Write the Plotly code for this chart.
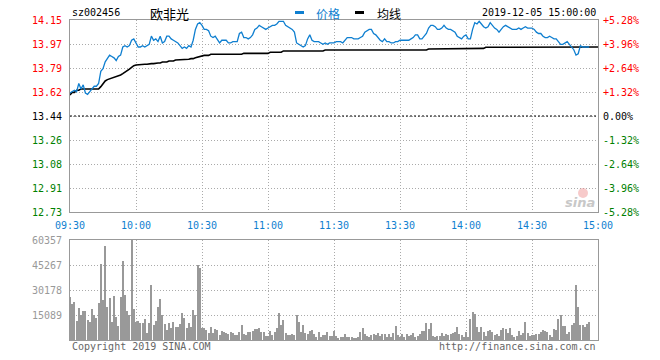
import plotly.graph_objects as go

# ---------------- data ----------------
stock_code = "sz002456"
stock_name = "欧非光"
timestamp = "2019-12-05 15:00:00"
prev_close = 13.44

time_ticks = [0, 30, 60, 90, 120, 150, 180, 210, 240]
time_labels = ["09:30", "10:00", "10:30", "11:00", "11:30", "13:30", "14:00", "14:30", "15:00"]

pct_steps = [-5.28, -3.96, -2.64, -1.32, 0.00, 1.32, 2.64, 3.96, 5.28]
price_labels = ["12.73", "12.91", "13.08", "13.26", "13.44", "13.62", "13.79", "13.97", "14.15"]
pct_labels = ["-5.28%", "-3.96%", "-2.64%", "-1.32%", "0.00%", "+1.32%", "+2.64%", "+3.96%", "+5.28%"]

vol_max = 60357
vol_ticks = [15089, 30178, 45267, 60357]
vol_labels = ["15089", "30178", "45267", "60357"]

price = [
    13.61, 13.62, 13.63, 13.62, 13.68, 13.64, 13.67, 13.61, 13.60, 13.62,
    13.64, 13.66, 13.66, 13.68, 13.77, 13.79, 13.84, 13.87, 13.89, 13.88,
    13.87, 13.85, 13.88, 13.89, 13.95, 13.96, 13.95, 13.96, 14.00, 14.01,
    13.98, 13.95, 13.95, 13.96, 13.95, 13.96, 13.97, 14.03, 14.00, 14.01,
    13.99, 14.03, 13.98, 13.99, 14.03, 14.03, 14.01, 14.00, 13.99, 13.98,
    13.96, 13.94, 13.95, 13.94, 13.96, 13.95, 14.00, 14.08, 14.12, 14.13,
    14.11, 14.08, 14.08, 14.07, 14.03, 14.02, 14.03, 14.00, 13.98, 14.00,
    14.00, 14.00, 13.98, 13.98, 13.99, 13.99, 13.99, 14.05, 14.06, 14.02,
    14.02, 14.01, 14.02, 14.04, 14.08, 14.09, 14.11, 14.10, 14.09, 14.08,
    14.09, 14.10, 14.11, 14.11, 14.12, 14.14, 14.14, 14.14, 14.11, 14.10,
    14.09, 14.08, 14.06, 13.98, 13.97, 13.96, 13.95, 13.96, 14.01, 14.04,
    14.00, 13.99, 13.99, 13.99, 13.98, 13.97, 13.98, 13.97, 13.98, 13.98,
    13.98, 13.99, 13.99, 13.99, 13.98, 14.00, 14.02, 14.02, 14.02, 14.01,
    14.01, 14.01, 14.02, 14.03, 14.06, 14.07, 14.08, 14.08, 14.05, 14.04,
    14.02, 14.00, 13.99, 14.01, 13.99, 13.99, 13.98, 13.98, 13.99, 13.99,
    14.00, 14.00, 14.00, 14.00, 14.00, 14.01, 14.02, 14.04, 14.04, 14.01,
    14.01, 14.03, 14.05, 14.09, 14.11, 14.11, 14.10, 14.08, 14.08, 14.09,
    14.11, 14.09, 14.08, 14.08, 14.07, 14.06, 14.03, 14.02, 14.01, 14.03,
    14.04, 14.01, 14.01, 14.08, 14.13, 14.12, 14.14, 14.12, 14.10, 14.09,
    14.10, 14.13, 14.11, 14.09, 14.08, 14.06, 14.08, 14.10, 14.11, 14.10,
    14.09, 14.08, 14.08, 14.08, 14.09, 14.08, 14.09, 14.10, 14.09, 14.09,
    14.09, 14.08, 14.06, 14.05, 14.05, 14.03, 14.02, 14.02, 14.03, 14.02,
    14.01, 14.01, 13.99, 13.97, 13.97, 13.98, 13.99, 13.97, 13.95, 13.93,
    13.89, 13.90, 13.96, 13.95, 13.95, 13.95, 13.95,
]

avg_price = [
    13.595, 13.615, 13.615, 13.630, 13.630, 13.640, 13.640, 13.640, 13.640, 13.640,
    13.640, 13.640, 13.640, 13.640, 13.657, 13.682, 13.699, 13.709, 13.714, 13.718,
    13.726, 13.731, 13.738, 13.743, 13.753, 13.763, 13.775, 13.787, 13.800, 13.812,
    13.817, 13.819, 13.822, 13.822, 13.822, 13.822, 13.827, 13.827, 13.827, 13.832,
    13.832, 13.832, 13.839, 13.839, 13.839, 13.847, 13.847, 13.847, 13.854, 13.854,
    13.854, 13.859, 13.859, 13.859, 13.859, 13.864, 13.864, 13.871, 13.876, 13.883,
    13.888, 13.888, 13.888, 13.888, 13.896, 13.896, 13.896, 13.896, 13.896, 13.896,
    13.896, 13.896, 13.896, 13.896, 13.896, 13.896, 13.896, 13.896, 13.896, 13.903,
    13.903, 13.903, 13.903, 13.903, 13.903, 13.903, 13.903, 13.903, 13.903, 13.903,
    13.903, 13.911, 13.911, 13.911, 13.911, 13.911, 13.911, 13.921, 13.921, 13.921,
    13.921, 13.921, 13.921, 13.921, 13.921, 13.921, 13.921, 13.921, 13.921, 13.921,
    13.921, 13.921, 13.921, 13.921, 13.921, 13.921, 13.928, 13.928, 13.928, 13.928,
    13.928, 13.928, 13.928, 13.928, 13.928, 13.928, 13.928, 13.928, 13.928, 13.928,
    13.928, 13.928, 13.928, 13.928, 13.928, 13.928, 13.928, 13.928, 13.928, 13.928,
    13.928, 13.928, 13.928, 13.928, 13.928, 13.928, 13.928, 13.928, 13.928, 13.928,
    13.928, 13.928, 13.928, 13.928, 13.928, 13.928, 13.928, 13.928, 13.928, 13.928,
    13.928, 13.928, 13.928, 13.935, 13.935, 13.935, 13.935, 13.935, 13.935, 13.935,
    13.935, 13.935, 13.935, 13.935, 13.935, 13.935, 13.935, 13.935, 13.935, 13.935,
    13.935, 13.935, 13.935, 13.940, 13.940, 13.940, 13.940, 13.940, 13.940, 13.948,
    13.948, 13.948, 13.948, 13.948, 13.948, 13.948, 13.948, 13.948, 13.948, 13.948,
    13.948, 13.948, 13.948, 13.948, 13.948, 13.948, 13.948, 13.948, 13.948, 13.948,
    13.948, 13.950, 13.950, 13.950, 13.950, 13.950, 13.950, 13.950, 13.950, 13.950,
    13.950, 13.950, 13.950, 13.950, 13.950, 13.950, 13.950, 13.950, 13.950, 13.950,
    13.950, 13.950, 13.950, 13.950, 13.950, 13.950, 13.950, 13.950, 13.950, 13.950,
    13.950,
]

volume = [
    25750, 21730, 22940, 11670, 19310, 15290, 17710, 17710, 12270, 10860,
    18910, 15290, 13280, 22330, 45870, 24340, 56740, 20120, 25350, 10860,
    26560, 13880, 8450, 26160, 47880, 27160, 17710, 15090, 60357, 18910,
    10860, 11670, 10260, 10260, 12680, 4230, 10260, 33400, 9050, 11670,
    19920, 24750, 15090, 9660, 6240, 10260, 7240, 10860, 7850, 7850,
    9460, 16100, 13280, 7240, 10260, 7850, 18110, 15090, 45267, 43460,
    7240, 7240, 6040, 4230, 7850, 4230, 6640, 6040, 3020, 5430,
    4830, 4230, 3620, 4830, 4230, 3020, 3020, 4830, 9050, 3620,
    3020, 4830, 4830, 5430, 6640, 6640, 7240, 4830, 4830, 2410,
    2410, 5430, 3020, 4830, 7240, 16100, 9050, 12070, 4230, 3020,
    3020, 3620, 3020, 15090, 10860, 4830, 9050, 4230, 3620, 5430,
    6040, 3620, 1810, 4830, 1810, 3020, 3020, 4830, 2410, 2410,
    5430, 2410, 1210, 1810, 1810, 3620, 1810, 1810, 1810, 1210,
    1210, 1810, 4830, 7240, 3620, 2410, 1810, 3020, 3620, 3020,
    4230, 2410, 3620, 3620, 1810, 3620, 1810, 4230, 8450, 3020,
    1810, 3620, 1810, 3620, 2410, 3020, 4230, 1810, 2410, 3620,
    5430, 5430, 10260, 6640, 10260, 2410, 1810, 2410, 2410, 4230,
    2410, 3620, 3020, 3620, 4230, 4830, 7850, 3620, 3020, 1810,
    4830, 1810, 12680, 16900, 15690, 7850, 4830, 7850, 4830, 2410,
    5430, 6040, 4830, 3020, 3620, 2410, 6040, 7240, 6640, 4230,
    7240, 3020, 1810, 2410, 5430, 3020, 4230, 10860, 4230, 2410,
    3020, 3020, 3620, 3620, 4830, 6040, 5430, 4830, 3020, 1810,
    6640, 6040, 12680, 15090, 8450, 8450, 3620, 4830, 9050, 10260,
    33200, 19920, 9050, 9050, 7850, 9660, 10860,
]

# ---------------- styling ----------------
W, H = 660, 360
MONO = "DejaVu Sans Mono"
CJK = "Noto Sans CJK SC"
RED, GREEN, BLACK = "#ff0000", "#008000", "#000000"
BLUE = "#0f7fd0"
FRAME = "#999999"
GRID = "#aaaaaa"

def px_x(x):
    return x / W

def px_y(y):
    return 1 - y / H

x_dom = [px_x(70), px_x(598)]
price_dom = [px_y(212), px_y(20)]
vol_dom = [px_y(340), px_y(240)]

lo = prev_close * (1 + pct_steps[0] / 100)
hi = prev_close * (1 + pct_steps[-1] / 100)
price_tick_pos = [prev_close * (1 + p / 100) for p in pct_steps]

def colour_for(p):
    return RED if p > 0 else (GREEN if p < 0 else BLACK)

price_ticktext = [f'<span style="color:{colour_for(p)}">{t}</span>' for p, t in zip(pct_steps, price_labels)]
pct_ticktext = [f'<span style="color:{colour_for(p)}">{t}</span>' for p, t in zip(pct_steps, pct_labels)]

pct_series = [(v / prev_close - 1) * 100 for v in price]

fig = go.Figure()

fig.add_trace(go.Scatter(
    x=list(range(len(avg_price))), y=avg_price, mode="lines",
    line=dict(color="#000000", width=1.6), xaxis="x", yaxis="y",
    hoverinfo="skip", showlegend=False,
))
fig.add_trace(go.Scatter(
    x=list(range(len(price))), y=price, mode="lines",
    line=dict(color=BLUE, width=1.3), xaxis="x", yaxis="y",
    showlegend=False,
))
fig.add_trace(go.Scatter(
    x=list(range(len(price))), y=pct_series, mode="lines",
    line=dict(color="rgba(0,0,0,0)", width=0), xaxis="x", yaxis="y2",
    hoverinfo="skip", showlegend=False,
))
fig.add_trace(go.Bar(
    x=list(range(len(volume))), y=volume, width=0.42,
    marker=dict(color="#999999", line=dict(width=0)),
    xaxis="x2", yaxis="y3", showlegend=False,
))

axis_common = dict(
    showgrid=True, gridcolor=GRID, gridwidth=1, griddash="1px,2px",
    zeroline=False, showline=True, linecolor=FRAME, linewidth=1, mirror=True,
    ticks="", fixedrange=True, automargin=False,
)

fig.update_layout(
    width=W, height=H,
    margin=dict(l=0, r=0, t=0, b=0, autoexpand=False),
    paper_bgcolor="white", plot_bgcolor="white",
    font=dict(family=MONO, size=10, color="#000000"),
    bargap=0,
    xaxis=dict(
        domain=x_dom, anchor="y", range=[0, 240],
        tickmode="array", tickvals=time_ticks, ticktext=time_labels,
        tickfont=dict(family=MONO, size=10, color=BLUE),
        ticklabelstandoff=4, **axis_common,
    ),
    yaxis=dict(
        domain=price_dom, anchor="x", range=[lo, hi],
        tickmode="array", tickvals=price_tick_pos, ticktext=price_ticktext,
        tickfont=dict(family=MONO, size=10), ticklabelstandoff=5,
        **axis_common,
    ),
    yaxis2=dict(
        overlaying="y", anchor="x", side="right", range=[pct_steps[0], pct_steps[-1]],
        tickmode="array", tickvals=pct_steps, ticktext=pct_ticktext,
        tickfont=dict(family=MONO, size=10), ticklabelstandoff=4,
        showgrid=False, zeroline=False, showline=False, ticks="", fixedrange=True,
        automargin=False,
    ),
    xaxis2=dict(
        domain=x_dom, anchor="y3", range=[0, 240],
        tickmode="array", tickvals=time_ticks, showticklabels=False,
        **axis_common,
    ),
    yaxis3=dict(
        domain=vol_dom, anchor="x2", range=[0, vol_max],
        tickmode="array", tickvals=vol_ticks, ticktext=vol_labels,
        tickfont=dict(family=MONO, size=10, color="#999999"), ticklabelstandoff=5,
        **axis_common,
    ),
)

# previous close reference line (dashed black)
fig.add_shape(type="line", xref="x", yref="y", x0=0, x1=240, y0=prev_close, y1=prev_close,
              line=dict(color="#000000", width=1, dash="2px,2px"), layer="above")

annotations = [
    dict(text=stock_code, x=px_x(70), y=px_y(13), xanchor="left", yanchor="middle",
         font=dict(family=MONO, size=10, color="#000000")),
    dict(text=stock_name, x=px_x(148), y=px_y(13.5), xanchor="left", yanchor="middle",
         font=dict(family=CJK, size=13, color="#000000")),
    dict(text="价格", x=px_x(314), y=px_y(13.5), xanchor="left", yanchor="middle",
         font=dict(family=CJK, size=12, color=BLUE)),
    dict(text="均线", x=px_x(375), y=px_y(13.5), xanchor="left", yanchor="middle",
         font=dict(family=CJK, size=12, color="#000000")),
    dict(text=timestamp, x=px_x(598), y=px_y(13), xanchor="right", yanchor="middle",
         font=dict(family=MONO, size=10, color="#000000")),
    dict(text="Copyright 2019 SINA.COM", x=px_x(70), y=px_y(346), xanchor="left", yanchor="middle",
         font=dict(family=MONO, size=10, color="#666666")),
    dict(text="http://finance.sina.com.cn", x=px_x(598), y=px_y(346), xanchor="right", yanchor="middle",
         font=dict(family=MONO, size=10, color="#666666")),
    dict(text="<b><i>sina</i></b>", x=px_x(597), y=px_y(202), xanchor="right", yanchor="middle",
         font=dict(family="DejaVu Sans", size=13, color="#c8c8c8")),
]
for a in annotations:
    a.update(xref="paper", yref="paper", showarrow=False)
fig.update_layout(annotations=annotations)

# legend swatches
fig.add_shape(type="rect", xref="paper", yref="paper",
              x0=px_x(295), x1=px_x(304), y0=px_y(14), y1=px_y(11),
              fillcolor=BLUE, line=dict(width=0))
fig.add_shape(type="rect", xref="paper", yref="paper",
              x0=px_x(355), x1=px_x(364), y0=px_y(14), y1=px_y(11),
              fillcolor="#000000", line=dict(width=0))
# small red mark of the watermark logo
fig.add_shape(type="circle", xref="paper", yref="paper",
              x0=px_x(578), x1=px_x(588), y0=px_y(198), y1=px_y(188),
              fillcolor="rgba(240,150,150,0.5)", line=dict(width=0))

# remove the browser's default 8px body margin so the 660x360 figure fills the window
fig.write_html("out.html", config={"displayModeBar": False},
               post_script="document.body.style.margin='0px';")
